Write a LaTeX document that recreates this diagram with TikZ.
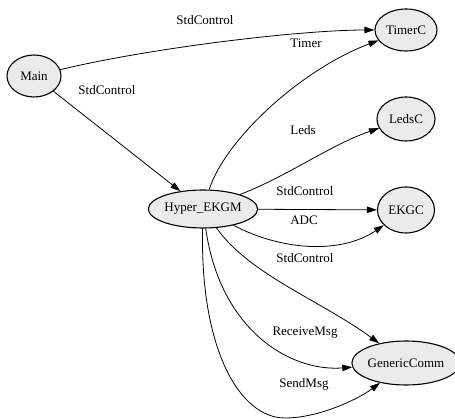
\documentclass[tikz,border=0pt]{standalone}
\usepackage{fontspec}
\setmainfont{Liberation Serif}
\usetikzlibrary{shapes.geometric,arrows.meta}
\begin{document}
\begin{tikzpicture}[x=1pt,y=-1pt,
  comp/.style={ellipse,draw=black,line width=1.1pt,fill=gray!16,inner sep=0pt,font=\fontsize{13}{15}\selectfont},
  lbl/.style={inner sep=0pt,font=\fontsize{13}{15}\selectfont},
  edge/.style={draw=black,line width=0.8pt,-{Triangle[length=10pt,width=6.5pt]}}]
\path[use as bounding box,fill=white] (0,0) rectangle (455,419);
\node[comp,minimum width=54pt,minimum height=42pt] (Main) at (34,76) {Main};
\node[comp,minimum width=62pt,minimum height=42pt] (TimerC) at (406,30) {TimerC};
\node[comp,minimum width=58pt,minimum height=44pt] (LedsC) at (406,119) {LedsC};
\node[comp,minimum width=100pt,minimum height=38pt] (Hyper) at (203,209) {Hyper\_EKGM};
\node[comp,minimum width=57pt,minimum height=46pt] (EKGC) at (406,210) {EKGC};
\node[comp,minimum width=98pt,minimum height=44pt] (Generic) at (406,363) {GenericComm};
% edges
\draw[edge] (Main) .. controls (150,48) and (300,30) .. (TimerC);
\draw[edge] (Main) -- (Hyper);
\draw[edge] (Hyper) .. controls (225,140) and (300,70) .. (TimerC);
\draw[edge] (Hyper) .. controls (290,175) and (330,145) .. (LedsC);
\draw[edge] (Hyper) -- (EKGC);
\draw[edge] (Hyper) .. controls (280,250) and (340,255) .. (EKGC);
\draw[edge] (Hyper) .. controls (250,275) and (320,300) .. (Generic);
\draw[edge] (Hyper) .. controls (220,330) and (290,372) .. (Generic);
\coordinate (low) at (285,418);
\draw[edge] (Hyper) .. controls (200,350) and (240,418) .. (low) .. controls (320,418) and (360,398) .. (Generic);
% labels
\node[lbl] (l1) at (205,20) {StdControl};
\node[lbl] (l2) at (107,90) {StdControl};
\node[lbl] (l3) at (306,43) {Timer};
\node[lbl] (l4) at (303,130) {Leds};
\node[lbl] (l5) at (305,191) {StdControl};
\node[lbl] (l6) at (304,220) {ADC};
\node[lbl] (l7) at (305,258) {StdControl};
\node[lbl] (l8) at (305,333) {ReceiveMsg};
\node[lbl] (l9) at (304,384) {SendMsg};
\end{tikzpicture}
\end{document}
